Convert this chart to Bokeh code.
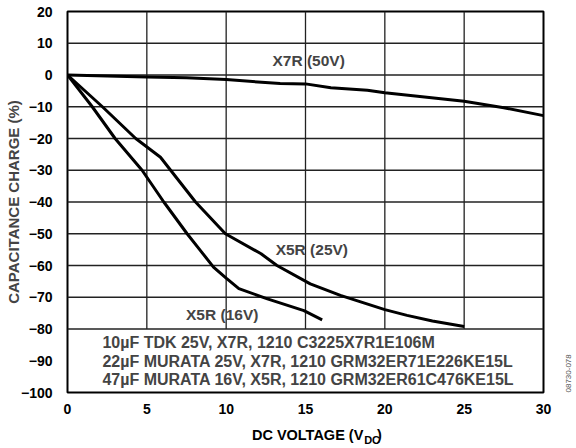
from bokeh.plotting import figure
from bokeh.models import Range1d, FixedTicker, Label, LinearAxis
from bokeh.layouts import column
from bokeh.core.properties import value
from bokeh.embed import file_html
from bokeh.resources import INLINE
import math

# ---- data ----
x_ticks = [0, 5, 10, 15, 20, 25, 30]
y_ticks = [-100, -90, -80, -70, -60, -50, -40, -30, -20, -10, 0, 10, 20]

v_x7r = [0, 2.5, 5, 7.5, 10, 12, 13.4, 15, 16.6, 18.9, 20, 22.5, 25, 27.5, 30]
c_x7r = [0, -0.3, -0.6, -0.9, -1.4, -2.2, -2.7, -2.8, -4.0, -4.8, -5.6, -6.9, -8.3, -10.3, -12.8]

v_x5r25 = [0, 2.2, 4.3, 5.86, 6.5, 8.07, 9.95, 12.2, 13.2, 15.3, 17.2, 20, 21.4, 23, 25]
c_x5r25 = [0, -10, -20, -25.9, -30, -40, -50, -56.3, -60, -65.8, -69.4, -73.9, -75.7, -77.5, -79.2]

v_x5r16 = [0, 1.56, 3.0, 4.7, 6.07, 7.54, 8.38, 9.2, 10.0, 10.8, 12.6, 14.9, 16.05]
c_x5r16 = [0, -10, -20, -30, -40, -50, -55.3, -60.5, -64, -67.3, -70.5, -74.2, -77.1]

curve_labels = ["X7R (50V)", "X5R (25V)", "X5R (16V)"]
notes = ["10\u00b5F TDK 25V, X7R, 1210 C3225X7R1E106M",
         "22\u00b5F MURATA 25V, X7R, 1210 GRM32ER71E226KE15L",
         "47\u00b5F MURATA 16V, X5R, 1210 GRM32ER61C476KE15L"]
x_title = ["DC VOLTAGE (V", "DC", ")"]
fig_code = "08730-078"

FONT = "Liberation Sans"

# main chart
p = figure(width=576, height=424, output_backend="svg", toolbar_location=None,
           x_range=Range1d(0, 30), y_range=Range1d(-100, 20),
           min_border_left=67, min_border_right=33, min_border_top=11, min_border_bottom=32)
p.xgrid.visible = False
p.ygrid.visible = False
p.outline_line_color = "black"
p.outline_line_width = 2

for ax in (p.xaxis, p.yaxis):
    ax.axis_line_color = None
    ax.major_tick_line_color = None
    ax.minor_tick_line_color = None
    ax.major_label_text_font = FONT
    ax.major_label_text_font_style = "bold"
    ax.major_label_text_font_size = "14px"
    ax.major_label_text_color = "black"

p.xaxis.ticker = FixedTicker(ticks=x_ticks)
p.yaxis.ticker = FixedTicker(ticks=y_ticks)
p.yaxis.major_label_overrides = {t: ("\u2212" + str(abs(t)) if t < 0 else str(t)) for t in y_ticks}
p.xaxis.major_label_standoff = 5
p.yaxis.major_label_standoff = 9

p.yaxis.axis_label = "CAPACITANCE CHARGE (%)"
p.yaxis.axis_label_text_font = FONT
p.yaxis.axis_label_text_font_style = "bold"
p.yaxis.axis_label_text_font_size = "15px"
p.yaxis.axis_label_standoff = -4

# figure code, written vertically at the right edge
code_axis = LinearAxis(ticker=FixedTicker(ticks=[y_ticks[0]]),
                       major_label_overrides={y_ticks[0]: fig_code},
                       major_label_orientation=math.pi / 2,
                       axis_line_color=None, major_tick_line_color=None, minor_tick_line_color=None,
                       major_label_text_font=FONT, major_label_text_font_size="8px",
                       major_label_text_color="#555555", major_label_standoff=19)
p.add_layout(code_axis, "right")

# grid (only down to -80; the note box area has none)
gx = [t for t in x_ticks if 0 < t < 30]
gy = [t for t in y_ticks if -80 <= t < 20]
p.segment(x0=gx, y0=[-80] * len(gx), x1=gx, y1=[20] * len(gx), line_color="#222222", line_width=1.3)
p.segment(x0=[0] * len(gy), y0=gy, x1=[30] * len(gy), y1=gy, line_color="#222222", line_width=1.3)

for xs, ys in ((v_x7r, c_x7r), (v_x5r25, c_x5r25), (v_x5r16, c_x5r16)):
    p.line(xs, ys, line_color="black", line_width=3, line_join="round")

lbl_pos = [(15.2, 4.6), (15.4, -55), (9.75, -75.4)]
for t, (x, y) in zip(curve_labels, lbl_pos):
    p.add_layout(Label(x=x, y=y, text=t, text_font=FONT, text_font_style="bold",
                       text_font_size="15.5px", text_align="center", text_baseline="middle"))

for i, t in enumerate(notes):
    p.add_layout(Label(x=2.2, y=-84.3 - 5.85 * i, text=t, text_font=FONT, text_font_style="bold",
                       text_font_size="16px", text_align="left", text_baseline="middle"))

# strip below the chart for the x-axis title (with subscript); ranges = page pixels
p2 = figure(width=576, height=24, output_backend="svg", toolbar_location=None,
            x_range=Range1d(0, 576), y_range=Range1d(448, 424),
            x_axis_type=None, y_axis_type=None,
            min_border_left=0, min_border_right=0, min_border_top=0, min_border_bottom=0)
p2.xgrid.visible = False
p2.ygrid.visible = False
p2.outline_line_color = None

p2.text(x=[358], y=[434], text=[x_title[0]], text_font=value(FONT), text_font_style="bold",
        text_font_size="14.5px", text_align="right", text_baseline="middle", text_color="black")
p2.text(x=[359], y=[439], text=[x_title[1]], text_font=value(FONT), text_font_style="bold",
        text_font_size="11px", text_align="left", text_baseline="middle", text_color="black")
p2.text(x=[374.5], y=[434], text=[x_title[2]], text_font=value(FONT), text_font_style="bold",
        text_font_size="14.5px", text_align="left", text_baseline="middle", text_color="black")

layout = column(p, p2, spacing=0)
open("out.html", "w").write(file_html(layout, INLINE))
